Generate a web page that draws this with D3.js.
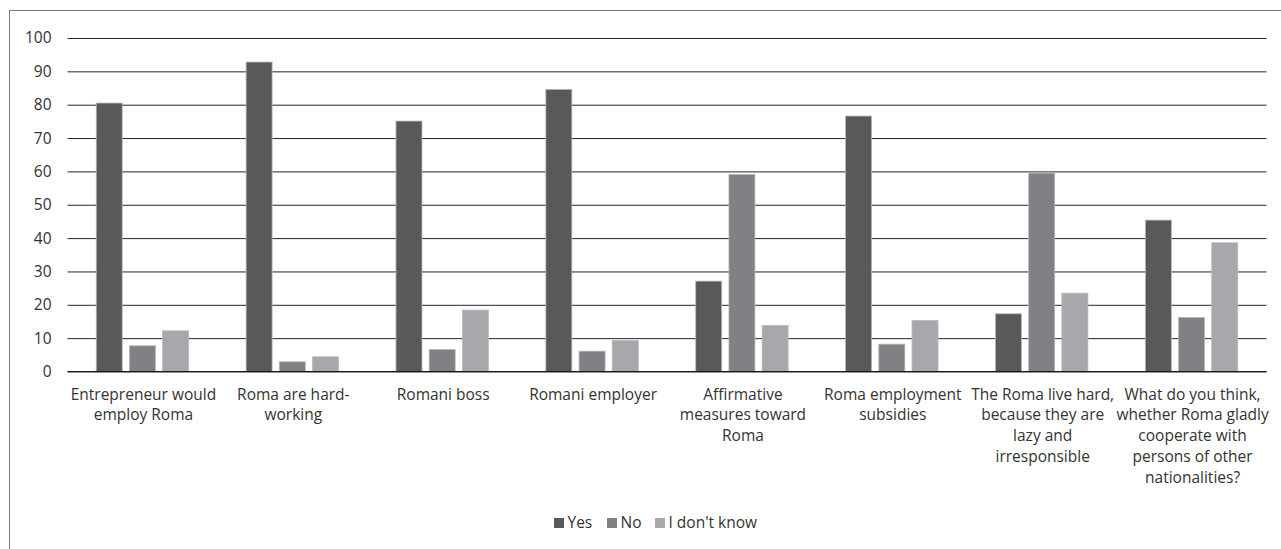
<!DOCTYPE html>
<html><head><meta charset="utf-8">
<script src="https://cdn.jsdelivr.net/npm/d3@7/dist/d3.min.js"></script>
<style>
html,body{margin:0;padding:0;background:#fff;}
svg text{font-family:"Open Sans",sans-serif;fill:#333;}
</style></head>
<body><svg id="chart" width="1281" height="549"></svg>
<script>
const categories = [
  "Entrepreneur would\nemploy Roma",
  "Roma are hard-\nworking",
  "Romani boss",
  "Romani employer",
  "Affirmative\nmeasures toward\nRoma",
  "Roma employment\nsubsidies",
  "The Roma live hard,\nbecause they are\nlazy and\nirresponsible",
  "What do you think,\nwhether Roma gladly\ncooperate with\npersons of other\nnationalities?"
];
const seriesNames = ["Yes", "No", "I don't know"];
const yes = [80.5, 92.8, 75.1, 84.6, 27.1, 76.6, 17.3, 45.4];
const no = [7.7, 2.9, 6.6, 6.1, 59.1, 8.2, 59.5, 16.2];
const dontKnow = [12.2, 4.4, 18.4, 9.3, 13.8, 15.3, 23.5, 38.6];
const yTicks = [0, 10, 20, 30, 40, 50, 60, 70, 80, 90, 100];
const colors = ["#58595b", "#808184", "#a7a8ab"];

(function () {
const series = [yes, no, dontKnow];
const svg = d3.select("#chart");
const pL = 67.5, pR = 1266.5, pT = 38, pB = 371.5;
const FS = 15.5;
const groupW = 92.4;

// outer frame
svg.append("rect").attr("x", 9.5).attr("y", 10.5).attr("width", 1300).attr("height", 600)
  .attr("fill", "none").attr("stroke", "#7a7a7a").attr("stroke-width", 1);

const x = d3.scaleBand().domain(categories).range([pL, pR]).paddingInner(0).paddingOuter(0);
const x1 = d3.scaleBand().domain(d3.range(3)).range([0, groupW]).paddingInner(0.217);
const y = d3.scaleLinear().domain([0, 100]).range([pB, pT]);

// gridlines
const yAxis = d3.axisLeft(y).tickValues(yTicks).tickSize(-(pR - pL)).tickPadding(16);
const gy = svg.append("g").attr("transform", `translate(${pL},0)`).call(yAxis);
gy.select(".domain").remove();
gy.selectAll(".tick line").attr("stroke", "#262626").attr("stroke-width", 1);
gy.selectAll(".tick text").attr("font-size", FS).attr("font-family", '"Open Sans",sans-serif').attr("fill", "#333");

// bars
const groups = svg.append("g").selectAll("g").data(categories).join("g")
  .attr("transform", d => `translate(${x(d) + (x.bandwidth() - groupW) / 2},0)`);
groups.selectAll("rect").data((d, i) => series.map((s, j) => ({j, v: s[i]}))).join("rect")
  .attr("x", d => x1(d.j))
  .attr("width", x1.bandwidth())
  .attr("y", d => y(d.v))
  .attr("height", d => y(0) - y(d.v))
  .attr("fill", d => colors[d.j])
  .attr("stroke", "#b8b8ba").attr("stroke-width", 0.8);

// x axis baseline
svg.append("line").attr("x1", pL).attr("x2", pR).attr("y1", y(0)).attr("y2", y(0))
  .attr("stroke", "#1a1a1a").attr("stroke-width", 1.2);

// category labels
const xl = svg.append("g");
categories.forEach(c => {
  const cx = x(c) + x.bandwidth() / 2 + 1;
  const t = xl.append("text").attr("text-anchor", "middle").attr("font-size", FS)
    .attr("x", cx).attr("y", 399.5);
  c.split("\n").forEach((line, k) => {
    t.append("tspan").attr("x", cx).attr("dy", k === 0 ? 0 : 20.8).text(line);
  });
});

// legend
const leg = svg.append("g");
const legX = [554, 607, 655];
seriesNames.forEach((n, i) => {
  leg.append("rect").attr("x", legX[i]).attr("y", 518).attr("width", 10).attr("height", 10).attr("fill", colors[i]);
  leg.append("text").attr("x", legX[i] + 13.5).attr("y", 528).attr("font-size", FS).text(n);
});
})();
</script></body></html>
